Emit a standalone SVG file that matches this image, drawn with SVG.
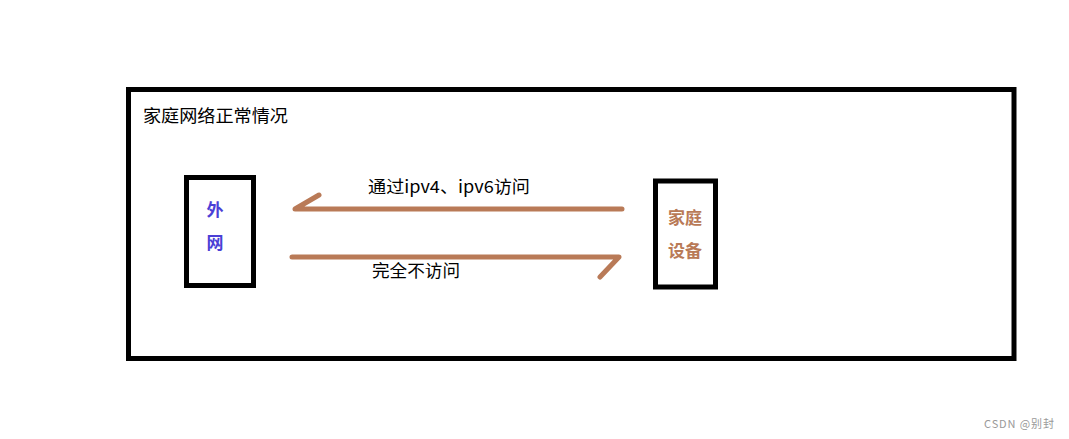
<svg xmlns="http://www.w3.org/2000/svg" width="1069" height="439" viewBox="0 0 1069 439">
<style>
.box{fill:none;stroke:#000;stroke-width:5}
.arr{fill:none;stroke:#b97a57;stroke-width:5;stroke-linecap:round;stroke-linejoin:round}
.t{font-family:"Noto Sans CJK SC","Microsoft YaHei",sans-serif;font-size:17px;fill:#000}
.nb{font-family:"Noto Sans CJK SC",sans-serif;font-size:17px;font-weight:bold;text-anchor:middle}
</style>
<rect width="1069" height="439" fill="#fff"/>
<g id="frame">
<rect class="box" x="128.5" y="89.5" width="885.5" height="269"/>
<text class="t" x="143" y="122" font-size="18" textLength="145" lengthAdjust="spacingAndGlyphs">家庭网络正常情况</text>
</g>
<g id="outer-net">
<rect class="box" x="186.5" y="177.5" width="67" height="108"/>
<text class="nb" x="215" y="216" fill="#4b3fd6">外</text>
<text class="nb" x="215" y="249" fill="#4b3fd6">网</text>
</g>
<g id="home-device">
<rect class="box" x="655.5" y="181" width="60" height="106"/>
<text class="nb" x="685" y="224" fill="#b97a57">家庭</text>
<text class="nb" x="685" y="257" fill="#b97a57">设备</text>
</g>
<g id="connectors">
<path class="arr" d="M622,209 L295,209 L319,195"/>
<path class="arr" d="M292,257 L619,257 L600,277"/>
<text class="t" x="368" y="193" textLength="162" lengthAdjust="spacingAndGlyphs">通过ipv4、ipv6访问</text>
<text class="t" x="372" y="277" textLength="88" lengthAdjust="spacingAndGlyphs">完全不访问</text>
</g>
<text x="984" y="428" font-family="'Noto Sans CJK SC',sans-serif" font-size="11" fill="#999" textLength="70" lengthAdjust="spacing">CSDN @别封</text>
</svg>
